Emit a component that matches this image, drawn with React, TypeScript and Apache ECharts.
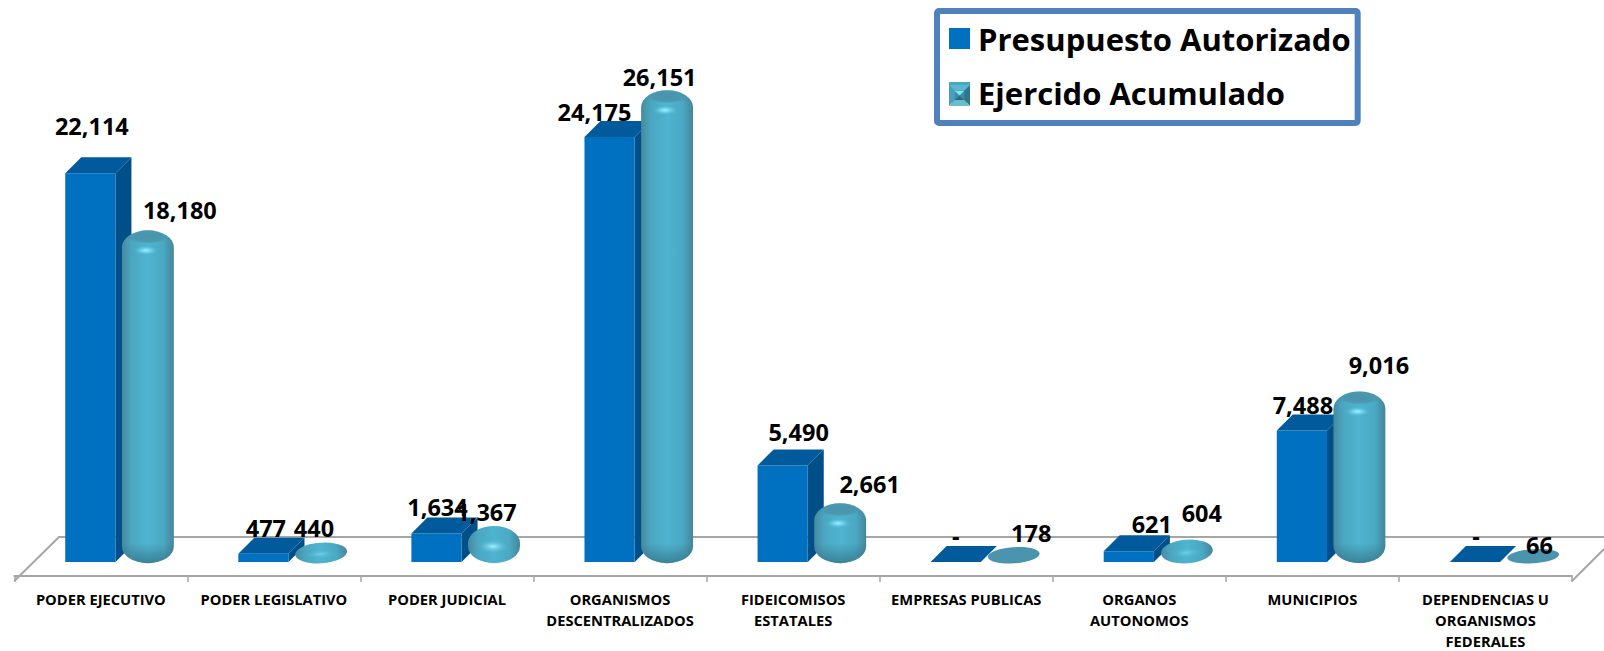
import React, { useEffect, useRef } from "react";
import * as echarts from "echarts";

const categories = [
  "PODER EJECUTIVO",
  "PODER LEGISLATIVO",
  "PODER JUDICIAL",
  "ORGANISMOS\nDESCENTRALIZADOS",
  "FIDEICOMISOS\nESTATALES",
  "EMPRESAS PUBLICAS",
  "ORGANOS\nAUTONOMOS",
  "MUNICIPIOS",
  "DEPENDENCIAS U\nORGANISMOS\nFEDERALES",
];
const presupuestoName = "Presupuesto Autorizado";
const ejercidoName = "Ejercido Acumulado";
const presupuesto = [22114, 477, 1634, 24175, 5490, 0, 621, 7488, 0];
const ejercido = [18180, 440, 1367, 26151, 2661, 178, 604, 9016, 66];

// Hand placed label offsets from the top centre of each mark, as in the reference.
const presupuestoLabelOffsets = [[1.5, -47], [2.5, -25.5], [1, -26.5], [-15, -25], [16, -33.5], [0, -26.5], [23, -27], [1, -25], [1, -26.5]];
const ejercidoLabelOffsets = [[32, -32.7], [-7, -26], [-7.5, -26], [-7.5, -25.6], [29.5, -31], [18, -26], [15.5, -39], [19.5, -39], [7, -15.5]];

const FONT = '"Open Sans", sans-serif';
const LABEL_STYLE = { fontFamily: FONT, fontWeight: "bold", fontSize: 23.5, fill: "#000", align: "center", verticalAlign: "middle" };
const BLUE_FRONT = "#0070c0";
const BLUE_TOP = "#005a9c";
const BLUE_SIDE = "#004f88";
const GREY = "#a6a6a6";
const DEPTH = 16;

const fmt = (v: number) => (v === 0 ? "-" : v.toLocaleString("en-US"));

function renderBox(_: any, api: any) {
  const i = api.value(0);
  const v = api.value(1);
  const [cx0, y] = api.coord([i, v]);
  const [, y0] = api.coord([i, 0]);
  const band = api.size([1, 0])[0];
  const cx = cx0 - band * 0.0607;
  const w = band * 0.29;
  const x0 = cx - w / 2;
  const x1 = cx + w / 2;
  const children: any[] = [];
  children.push({
    type: "polygon",
    shape: { points: [[x1, y], [x1 + DEPTH, y - DEPTH], [x1 + DEPTH, y0 - DEPTH], [x1, y0]] },
    style: { fill: BLUE_SIDE },
  });
  if (y0 - y > 0.5) {
    children.push({ type: "rect", shape: { x: x0, y, width: w, height: y0 - y }, style: { fill: BLUE_FRONT } });
  }
  children.push({
    type: "polygon",
    shape: { points: [[x0, y], [x1, y], [x1 + DEPTH, y - DEPTH], [x0 + DEPTH, y - DEPTH]] },
    style: { fill: BLUE_TOP },
  });
  const off = presupuestoLabelOffsets[i];
  children.push({ type: "text", z2: 100, style: { ...LABEL_STYLE, x: cx + off[0], y: y + off[1], text: fmt(v) } });
  return { type: "group", children };
}

function blobPath(x0: number, x1: number, yt: number, yb: number, ryT: number, ryB: number) {
  const rx = (x1 - x0) / 2;
  return `M${x0} ${yt + ryT}A${rx} ${ryT} 0 0 1 ${x1} ${yt + ryT}L${x1} ${yb - ryB}A${rx} ${ryB} 0 0 1 ${x0} ${yb - ryB}Z`;
}

function renderCylinder(_: any, api: any) {
  const i = api.value(0);
  const v = api.value(1);
  const [cx0, y] = api.coord([i, v]);
  const [, y0] = api.coord([i, 0]);
  const band = api.size([1, 0])[0];
  const cx = cx0 + band * 0.2717;
  const w = band * 0.3;
  const x0 = cx - w / 2;
  const x1 = cx + w / 2;
  const yt = y - 12;
  const yb = y0 + 1;
  const H = yb - yt;
  const ry = Math.min(17, H / 2);
  const d = blobPath(x0, x1, yt, yb, ry, ry);
  const flat = H < 26;
  const veryFlat = H < 18;
  const shapes: any[] = [];
  shapes.push({
    type: "path",
    shape: { pathData: d },
    style: {
      fill: veryFlat
        ? "#4a95ad"
        : new echarts.graphic.LinearGradient(0, 0, 1, 0, [
            { offset: 0, color: "#468a9f" },
            { offset: 0.18, color: "#4aa6c0" },
            { offset: 0.5, color: "#4fb4d0" },
            { offset: 0.8, color: "#4aa8c2" },
            { offset: 1, color: "#44869b" },
          ]),
    },
  });
  if (H > 40) {
    shapes.push({
      type: "path",
      shape: { pathData: d },
      style: {
        fill: new echarts.graphic.LinearGradient(0, 0, 0, 1, [
          { offset: 0, color: "rgba(60,125,145,0.5)" },
          { offset: Math.min(0.45, 12 / H), color: "rgba(60,125,145,0)" },
          { offset: Math.max(0.5, 1 - 20 / H), color: "rgba(50,110,130,0)" },
          { offset: 1, color: "rgba(50,110,130,0.7)" },
        ]),
      },
    });
    shapes.push({
      type: "ellipse",
      shape: { cx, cy: yt + 7, rx: w * 0.36, ry: 6 },
      style: {
        fill: new echarts.graphic.RadialGradient(0.5, 0.5, 0.5, [
          { offset: 0, color: "#4a93ab" },
          { offset: 0.7, color: "rgba(74,147,171,0.8)" },
          { offset: 1, color: "rgba(74,147,171,0)" },
        ]),
      },
    });
    shapes.push({
      type: "ellipse",
      shape: { cx: cx - 2, cy: yt + 20, rx: 13, ry: 5 },
      style: {
        fill: new echarts.graphic.RadialGradient(0.5, 0.5, 0.5, [
          { offset: 0, color: "#a4f0ff" },
          { offset: 0.4, color: "rgba(120,225,250,0.7)" },
          { offset: 1, color: "rgba(80,180,210,0)" },
        ]),
      },
    });
  } else if (!veryFlat) {
    shapes.push({
      type: "ellipse",
      shape: { cx: cx - 1, cy: yt + H * 0.55, rx: 16, ry: Math.min(7, H * 0.22) },
      style: {
        fill: new echarts.graphic.RadialGradient(0.5, 0.5, 0.5, [
          { offset: 0, color: flat ? "rgba(120,215,240,0.8)" : "#a4f0ff" },
          { offset: 1, color: "rgba(80,180,210,0)" },
        ]),
      },
    });
  }
  const off = ejercidoLabelOffsets[i];
  return {
    type: "group",
    children: [
      {
        type: "group",
        rotation: flat ? 0.07 : 0,
        originX: cx,
        originY: (yt + yb) / 2,
        children: shapes,
      },
      { type: "text", z2: 100, style: { ...LABEL_STYLE, x: cx + off[0], y: y + off[1], text: fmt(v) } },
    ],
  };
}

const bevel = (x: number, y: number, s: number) => {
  const q = s * 0.28;
  const tri = (points: number[][], fill: any) => ({ type: "polygon", z: 10, shape: { points }, style: { fill } });
  return [
    tri([[x, y], [x + s, y], [x + s - q, y + q], [x + q, y + q]], "#5ab7cf"),
    tri([[x, y], [x + q, y + q], [x + q, y + s - q], [x, y + s]], "#4aa0b8"),
    tri([[x + s, y], [x + s, y + s], [x + s - q, y + s - q], [x + s - q, y + q]], "#2f768d"),
    tri([[x, y + s], [x + q, y + s - q], [x + s - q, y + s - q], [x + s, y + s]], "#69bcd2"),
    tri([[x + q, y + q], [x + s - q, y + q], [x + s - q, y + s - q], [x + q, y + s - q]], "#3b8ea6"),
    tri([[x + q, y + q], [x + s - q, y + q], [x + s / 2, y + s / 2]], "#86e0f2"),
    tri([[x + q, y + s - q], [x + s / 2, y + s / 2], [x + s - q, y + s - q]], "#2c6d85"),
  ];
};

export default function App() {
  const ref = useRef<HTMLDivElement>(null);
  useEffect(() => {
    document.body.style.margin = "0";
    const chart = echarts.init(ref.current!, null, { renderer: "svg" });
    chart.setOption({
      animation: false,
      backgroundColor: "#ffffff",
      grid: { left: 14.3, right: 32, top: 34.5, bottom: 70 },
      legend: {
        orient: "vertical",
        left: 937,
        top: 11,
        padding: [12, 7, 15, 12],
        backgroundColor: "#fff",
        borderColor: "#4f81bd",
        borderWidth: 6,
        borderRadius: 2,
        itemWidth: 21,
        itemHeight: 21,
        itemGap: 23,
        selectedMode: false,
        textStyle: { fontFamily: FONT, fontWeight: "bold", fontSize: 31, color: "#000", padding: [0, 0, 0, 3] },
        data: [
          { name: presupuestoName, icon: "rect", itemStyle: { color: BLUE_FRONT } },
          { name: ejercidoName, icon: "rect", itemStyle: { color: "#4ba8c2" } },
        ],
      },
      xAxis: {
        type: "category",
        data: categories,
        axisLine: { onZero: false, lineStyle: { color: GREY, width: 2 } },
        axisTick: { show: true, length: 6, alignWithLabel: false, lineStyle: { color: GREY, width: 1.5 } },
        axisLabel: { interval: 0, fontFamily: FONT, fontWeight: "bold", fontSize: 14.7, color: "#000", lineHeight: 21, margin: 12 },
      },
      yAxis: { type: "value", min: -789, max: 30000, show: false, splitLine: { show: false } },
      graphic: [
        {
          type: "polyline",
          z: 0,
          shape: { points: [[14.3, 581], [59, 537], [1604, 537]] },
          style: { stroke: GREY, lineWidth: 2, fill: "none" },
        },
        {
          type: "line",
          z: 0,
          shape: { x1: 1572, y1: 581, x2: 1604, y2: 549 },
          style: { stroke: GREY, lineWidth: 2 },
        },
        ...bevel(949, 85, 21),
      ],
      series: [
        {
          name: presupuestoName,
          type: "custom",
          renderItem: renderBox,
          clip: false,
          encode: { x: 0, y: 1 },
          itemStyle: { color: BLUE_FRONT },
          data: presupuesto.map((v, i) => [i, v]),
        },
        {
          name: ejercidoName,
          type: "custom",
          renderItem: renderCylinder,
          clip: false,
          encode: { x: 0, y: 1 },
          itemStyle: { color: "#4ba8c2" },
          data: ejercido.map((v, i) => [i, v]),
        },
      ],
    });
    return () => chart.dispose();
  }, []);
  return <div ref={ref} style={{ position: "absolute", left: 0, top: 0, width: 1604, height: 651 }} />;
}
